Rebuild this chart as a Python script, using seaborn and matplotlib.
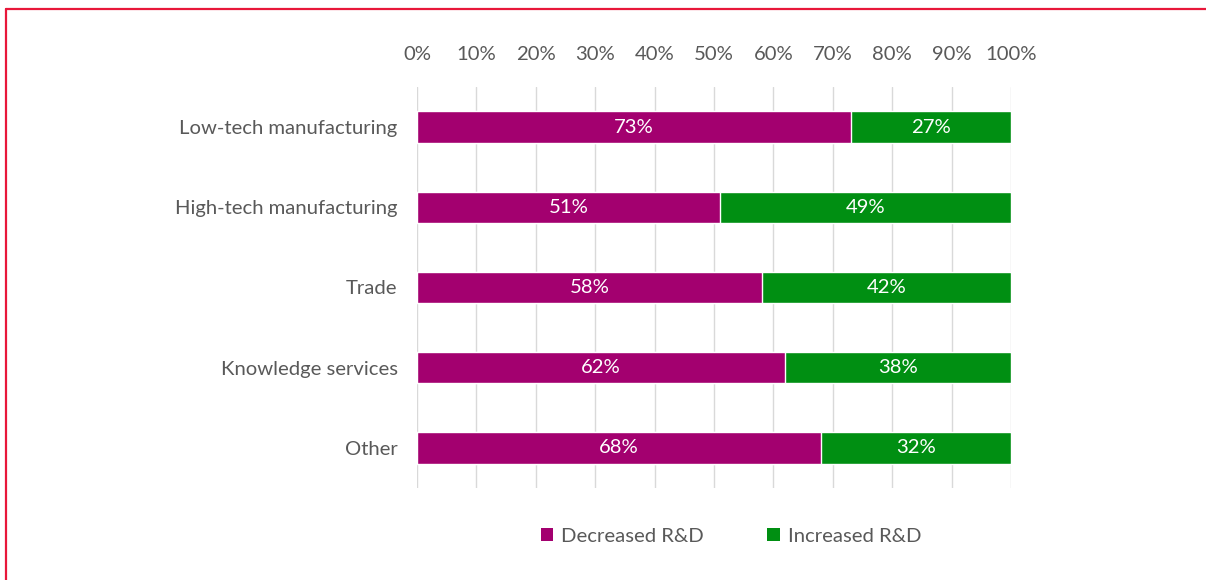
import matplotlib
matplotlib.use("Agg")
import matplotlib.pyplot as plt
from matplotlib.lines import Line2D
from matplotlib.patches import Patch
import seaborn as sns
import pandas as pd

sectors = ["Low-tech manufacturing", "High-tech manufacturing", "Trade",
           "Knowledge services", "Other"]
decreased = [73, 51, 58, 62, 68]
increased = [27, 49, 42, 38, 32]
x_ticks = list(range(0, 101, 10))
x_tick_labels = [f"{t}%" for t in x_ticks]

series_names = ["Decreased R&D", "Increased R&D"]
magenta = "#A3006F"
green = "#008F12"
text_grey = "#595959"
grid_grey = "#D9D9D9"
fs = 14.6

sns.set_theme(style="white")
plt.rcParams["font.family"] = ["Lato", "DejaVu Sans"]

df = pd.DataFrame({"sector": sectors, "decreased": decreased,
                   "increased": increased})
df["total"] = df["decreased"] + df["increased"]

fig = plt.figure(figsize=(12.06, 5.8), dpi=100)
ax = fig.add_axes([417 / 1206, 1 - 488 / 580, (1011 - 417) / 1206, (488 - 87) / 580])

# stacked bars: full total in green, decreased share drawn over it
sns.barplot(data=df, x="total", y="sector", orient="h", color=green,
            width=0.39, edgecolor="white", linewidth=1, saturation=1, ax=ax, zorder=2)
sns.barplot(data=df, x="decreased", y="sector", orient="h", color=magenta,
            width=0.39, edgecolor="white", linewidth=1, saturation=1, ax=ax, zorder=3)

for i, (d, inc) in enumerate(zip(decreased, increased)):
    ax.text(d / 2, i, f"{d}%", ha="center", va="center", color="white",
            fontsize=fs, zorder=4)
    ax.text(d + inc / 2, i, f"{inc}%", ha="center", va="center", color="white",
            fontsize=fs, zorder=4)

ax.set_xlim(0, 100)
ax.set_ylim(4.5, -0.5)
ax.set_xticks(x_ticks)
ax.set_xticklabels(x_tick_labels)
ax.xaxis.tick_top()
ax.grid(axis="x", color=grid_grey, linewidth=1, zorder=0)
ax.set_axisbelow(True)
ax.tick_params(axis="x", length=0, pad=17, labelsize=fs, labelcolor=text_grey)
ax.tick_params(axis="y", length=0, pad=14, labelsize=fs, labelcolor=text_grey)
ax.set_xlabel("")
ax.set_ylabel("")
for s in ax.spines.values():
    s.set_visible(False)

handles = [Patch(facecolor=magenta, edgecolor="none"),
           Patch(facecolor=green, edgecolor="none")]
leg = fig.legend(handles, series_names, loc="center", ncol=2,
                 bbox_to_anchor=(731 / 1206, 1 - 536 / 580), frameon=False,
                 fontsize=fs, handlelength=0.62, handleheight=0.62,
                 handletextpad=0.4, columnspacing=3.1)
for t in leg.get_texts():
    t.set_color(text_grey)

# red frame along the top and left edges
red = "#E8173A"
fig.add_artist(Line2D([6 / 1206, 1], [1 - 8.5 / 580, 1 - 8.5 / 580],
                      transform=fig.transFigure, color=red, linewidth=1.6))
fig.add_artist(Line2D([6 / 1206, 6 / 1206], [0, 1 - 8.5 / 580],
                      transform=fig.transFigure, color=red, linewidth=1.6))

fig.savefig("out.png", dpi=100)
